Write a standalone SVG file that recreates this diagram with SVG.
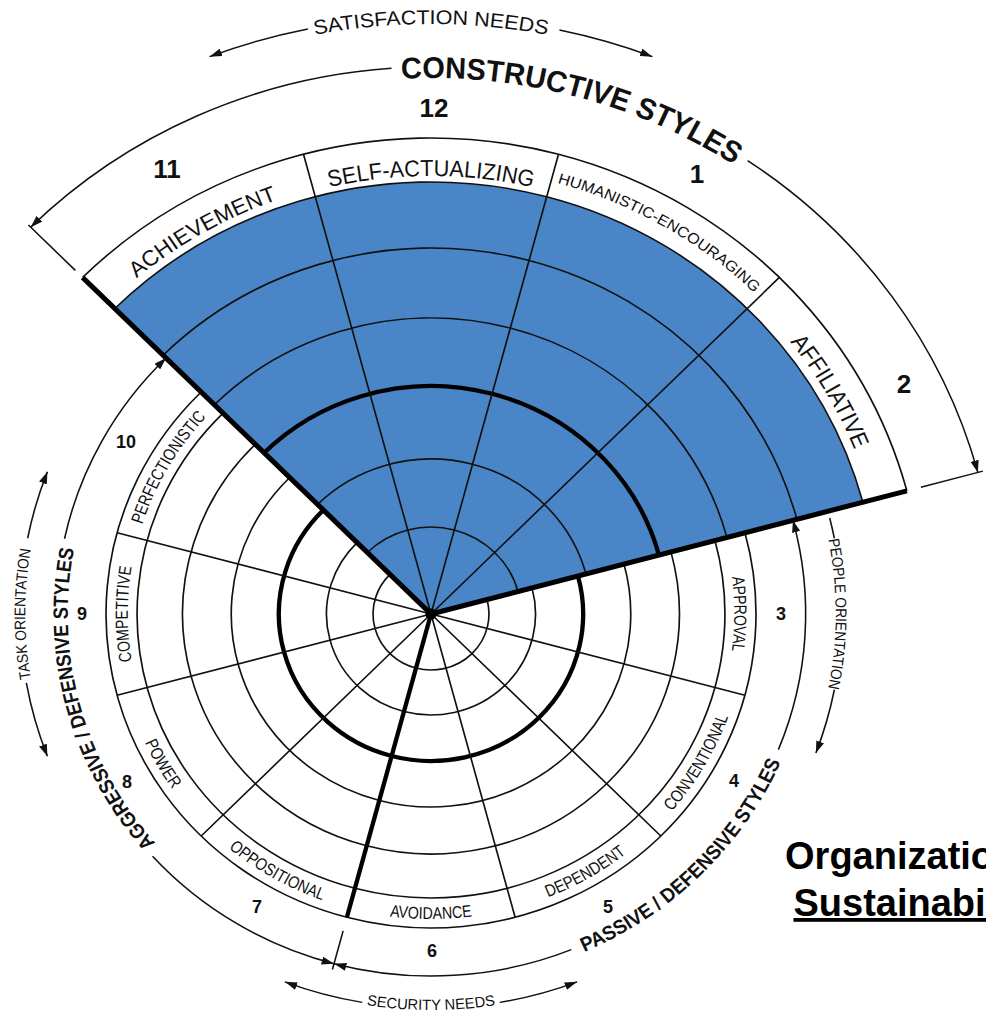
<svg xmlns="http://www.w3.org/2000/svg" width="986" height="1013" viewBox="0 0 986 1013">
<defs>
<style>
.ring{fill:none;stroke:#111;stroke-width:1.6}
.thick{fill:none;stroke:#000;stroke-width:4.2}
.edge{fill:none;stroke:#000;stroke-width:5}
.spoke{fill:none;stroke:#111;stroke-width:1.6}
.arc{fill:none;stroke:#111;stroke-width:1.5}
.arrow{fill:none;stroke:#111;stroke-width:1.5;marker-end:url(#ah)}
.lbl{font-family:"Liberation Sans",Arial,sans-serif;fill:#111;text-anchor:middle}
.bold{font-weight:bold}
.num{font-family:"Liberation Sans",Arial,sans-serif;font-weight:bold;fill:#111;text-anchor:middle}
</style>
<marker id="ah" viewBox="0 0 12 8" refX="12" refY="4" markerWidth="12" markerHeight="8" markerUnits="userSpaceOnUse" orient="auto">
<path d="M0,0 L12,4 L0,8 Z" fill="#111"/>
</marker>
<!-- baselines for curved labels (local polar frame, centre at origin) -->
<path id="p-con" d="M-138.73,-517.74 A536 536 0 0 1 379.01,-379.01"/>
<path id="p-sat" d="M-201.79,-554.42 A590 590 0 0 1 201.79,-554.42"/>
<path id="p-sec" d="M-135.44,372.12 A396 396 0 0 0 135.44,372.12"/>
<path id="p-agg" d="M-248.19,248.19 A351 351 0 0 1 -339.04,-90.85"/>
<path id="p-pas" d="M95.50,356.43 A369 369 0 0 0 356.43,95.50"/>
<path id="p-task" d="M-368.36,134.07 A392 392 0 0 1 -368.36,-134.07"/>
<path id="p-ppl" d="M367.42,-133.73 A391 391 0 0 1 367.42,133.73"/>
<path id="p-s3" d="M283.02,-75.83 A293 293 0 0 1 283.02,75.83"/>
<path id="p-s9" d="M-283.02,75.83 A293 293 0 0 1 -283.02,-75.83"/>
<path id="p-s10" d="M-283.02,-75.83 A293 293 0 0 1 -207.18,-207.18"/>
<path id="p-s4" d="M215.67,215.67 A305 305 0 0 0 294.61,78.94"/>
<path id="p-s5" d="M78.94,294.61 A305 305 0 0 0 215.67,215.67"/>
<path id="p-s6" d="M-78.94,294.61 A305 305 0 0 0 78.94,294.61"/>
<path id="p-s7" d="M-215.67,215.67 A305 305 0 0 0 -78.94,294.61"/>
<path id="p-s8" d="M-294.61,78.94 A305 305 0 0 0 -215.67,215.67"/>
<path id="p-s11" d="M-311.13,-311.13 A440 440 0 0 1 -113.88,-425.01"/>
<path id="p-s12" d="M-113.36,-423.08 A438 438 0 0 1 113.36,-423.08"/>
<path id="p-s1" d="M115.95,-432.74 A448 448 0 0 1 316.78,-316.78"/>
<path id="p-s2" d="M311.83,-311.83 A441 441 0 0 1 425.97,-114.14"/>
</defs>

<rect width="986" height="1013" fill="#fff"/>

<g transform="translate(431 614) scale(1.035 1)">

  <!-- constructive sector: styles 11, 12, 1, 2 -->
  <g id="constructive-sector">
    <path d="M0,0 L417.28,-111.81 A432 432 0 0 0 -305.47,-305.47 Z" fill="#4a85c7"/>
    <path class="ring" d="M84.04,-22.52 A87 87 0 0 0 -61.52,-61.52"/>
    <path class="ring" d="M149.72,-40.12 A155 155 0 0 0 -109.60,-109.60"/>
    <path class="thick" d="M220.23,-59.01 A228 228 0 0 0 -161.22,-161.22"/>
    <path class="ring" d="M285.91,-76.61 A296 296 0 0 0 -209.30,-209.30"/>
    <path class="ring" d="M353.53,-94.73 A366 366 0 0 0 -258.80,-258.80"/>
    <path class="ring" stroke-width="2" d="M417.28,-111.81 A432 432 0 0 0 -305.47,-305.47"/>
    <path class="ring" stroke-width="2" d="M459.78,-123.20 A476 476 0 0 0 -336.58,-336.58"/>
    <path class="spoke" d="M0,0 L336.58,-336.58 M0,0 L123.20,-459.78 M0,0 L-123.20,-459.78"/>
  </g>

  <!-- defensive region: styles 3 to 10 -->
  <g id="defensive-region">
    <path class="ring" d="M54.09,-14.49 A56 56 0 1 1 -39.60,-39.60"/>
    <path class="ring" d="M97.56,-26.14 A101 101 0 1 1 -71.42,-71.42"/>
    <path class="thick" d="M141.99,-38.05 A147 147 0 1 1 -103.95,-103.95"/>
    <path class="ring" d="M186.42,-49.95 A193 193 0 1 1 -136.47,-136.47"/>
    <path class="ring" d="M231.82,-62.12 A240 240 0 1 1 -169.71,-169.71"/>
    <path class="ring" d="M274.32,-73.51 A284 284 0 1 1 -200.82,-200.82"/>
    <path class="ring" stroke-width="2" d="M303.30,-81.27 A314 314 0 1 1 -222.03,-222.03"/>
    <path class="spoke" d="M0,0 L-303.30,-81.27 M0,0 L-303.30,81.27 M0,0 L-222.03,222.03 M0,0 L81.27,303.30 M0,0 L222.03,222.03 M0,0 L303.30,81.27"/>
    <path class="thick" d="M0,0 L-81.27,303.30"/>
  </g>

  <!-- sector boundaries and hub -->
  <g id="boundaries">
    <path class="edge" d="M0,0 L459.78,-123.20 M0,0 L-336.58,-336.58"/>
    <circle r="5.5" fill="#000"/>
  </g>

  <!-- style names in the label bands -->
  <g id="style-names" class="lbl">
    <text font-size="22"><textPath href="#p-s11" startOffset="50%" textLength="158" lengthAdjust="spacingAndGlyphs">ACHIEVEMENT</textPath></text>
    <text font-size="23"><textPath href="#p-s12" startOffset="50%" textLength="198" lengthAdjust="spacingAndGlyphs">SELF-ACTUALIZING</textPath></text>
    <text font-size="15"><textPath href="#p-s1" startOffset="50%" textLength="222" lengthAdjust="spacingAndGlyphs">HUMANISTIC-ENCOURAGING</textPath></text>
    <text font-size="23"><textPath href="#p-s2" startOffset="50%" textLength="125" lengthAdjust="spacingAndGlyphs">AFFILIATIVE</textPath></text>
    <text font-size="17"><textPath href="#p-s3" startOffset="50%" textLength="74" lengthAdjust="spacingAndGlyphs">APPROVAL</textPath></text>
    <text font-size="17"><textPath href="#p-s4" startOffset="50%" textLength="110" lengthAdjust="spacingAndGlyphs">CONVENTIONAL</textPath></text>
    <text font-size="17"><textPath href="#p-s5" startOffset="50%" textLength="88" lengthAdjust="spacingAndGlyphs">DEPENDENT</textPath></text>
    <text font-size="17"><textPath href="#p-s6" startOffset="50%" textLength="80" lengthAdjust="spacingAndGlyphs">AVOIDANCE</textPath></text>
    <text font-size="17"><textPath href="#p-s7" startOffset="50%" textLength="105" lengthAdjust="spacingAndGlyphs">OPPOSITIONAL</textPath></text>
    <text font-size="17"><textPath href="#p-s8" startOffset="50%" textLength="54" lengthAdjust="spacingAndGlyphs">POWER</textPath></text>
    <text font-size="17"><textPath href="#p-s9" startOffset="50%" textLength="95" lengthAdjust="spacingAndGlyphs">COMPETITIVE</textPath></text>
    <text font-size="17"><textPath href="#p-s10" startOffset="50%" textLength="125" lengthAdjust="spacingAndGlyphs">PERFECTIONISTIC</textPath></text>
  </g>

  <!-- cluster arcs, orientation arcs and need arcs -->
  <g id="connectors">
    <path class="arrow" d="M-38.16,-545.67 A547 547 0 0 0 -386.79,-386.79"/>
    <path class="arrow" d="M305.88,-453.48 A547 547 0 0 1 528.36,-141.58"/>
    <path class="arc" d="M-343.65,-343.65 L-388.91,-388.91 M473.31,-126.82 L533.19,-142.87"/>
    <path class="arrow" d="M-119.02,-585.01 A597 597 0 0 0 -213.95,-557.35"/>
    <path class="arrow" d="M124.12,-583.96 A597 597 0 0 1 213.95,-557.35"/>
    <path class="arrow" d="M-354.09,-75.26 A362 362 0 0 1 -255.97,-255.97"/>
    <path class="arrow" d="M-269.02,242.23 A362 362 0 0 0 -93.69,349.67"/>
    <path class="arrow" d="M135.61,335.64 A362 362 0 0 1 -93.69,349.67"/>
    <path class="arrow" d="M335.64,135.61 A362 362 0 0 0 349.67,-93.69"/>
    <path class="arc" d="M-84.89,316.82 L-95.25,355.46"/>
    <path class="arrow" d="M-66.38,388.37 A394 394 0 0 1 -141.20,367.83"/>
    <path class="arrow" d="M66.38,388.37 A394 394 0 0 0 141.20,367.83"/>
    <path class="arrow" d="M-389.71,-75.75 A397 397 0 0 1 -370.63,-142.27"/>
    <path class="arrow" d="M-390.97,68.94 A397 397 0 0 0 -370.63,142.27"/>
    <path class="arc" d="M385.21,-96.04 A397 397 0 0 1 389.71,-75.75"/>
    <path class="arrow" d="M389.71,75.75 A397 397 0 0 1 371.86,139.03"/>
  </g>

  <!-- cluster and orientation titles -->
  <g id="cluster-titles" class="lbl">
    <text class="bold" font-size="30"><textPath href="#p-con" startOffset="50%" textLength="338" lengthAdjust="spacingAndGlyphs">CONSTRUCTIVE STYLES</textPath></text>
    <text font-size="20"><textPath href="#p-sat" startOffset="50%" textLength="226" lengthAdjust="spacingAndGlyphs">SATISFACTION NEEDS</textPath></text>
    <text font-size="15"><textPath href="#p-sec" startOffset="50%" textLength="125" lengthAdjust="spacingAndGlyphs">SECURITY NEEDS</textPath></text>
    <text class="bold" font-size="20"><textPath href="#p-agg" startOffset="50%" textLength="315" lengthAdjust="spacingAndGlyphs">AGGRESSIVE / DEFENSIVE STYLES</textPath></text>
    <text class="bold" font-size="20"><textPath href="#p-pas" startOffset="50%" textLength="275" lengthAdjust="spacingAndGlyphs">PASSIVE / DEFENSIVE STYLES</textPath></text>
    <text font-size="15"><textPath href="#p-task" startOffset="50%" textLength="130" lengthAdjust="spacingAndGlyphs">TASK ORIENTATION</textPath></text>
    <text font-size="15"><textPath href="#p-ppl" startOffset="50%" textLength="150" lengthAdjust="spacingAndGlyphs">PEOPLE ORIENTATION</textPath></text>
  </g>
</g>

<!-- clock positions of the twelve styles -->
<g id="style-numbers" class="num">
  <text x="434" y="117" font-size="26">12</text>
  <text x="167" y="178" font-size="26">11</text>
  <text x="697" y="183" font-size="26">1</text>
  <text x="904" y="393" font-size="26">2</text>
  <text x="126" y="448" font-size="18">10</text>
  <text x="82" y="620" font-size="18">9</text>
  <text x="127" y="788" font-size="18">8</text>
  <text x="257" y="913" font-size="18">7</text>
  <text x="432" y="957" font-size="18">6</text>
  <text x="608" y="913" font-size="18">5</text>
  <text x="734" y="787" font-size="18">4</text>
  <text x="781" y="620" font-size="18">3</text>
</g>

<g id="caption" font-family="'Liberation Sans',Arial,sans-serif" font-weight="bold" font-size="38" fill="#000" text-anchor="middle">
  <text x="917" y="869">Organizational</text>
  <text x="917" y="916" text-decoration="underline">Sustainability</text>
</g>
</svg>
